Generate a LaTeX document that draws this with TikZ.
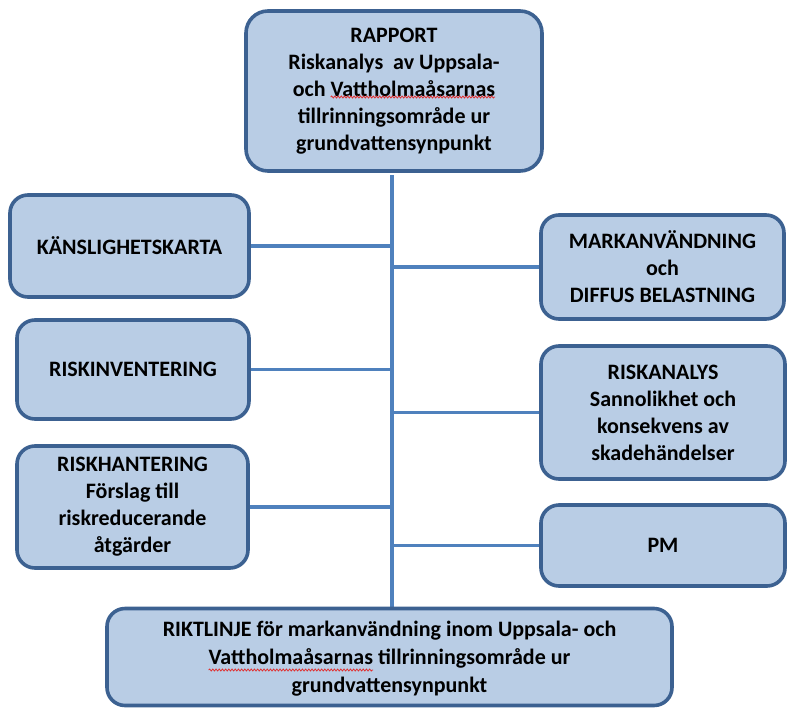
\documentclass[tikz,border=0pt]{standalone}
\usepackage{fontspec}
\setmainfont{Carlito}
\usetikzlibrary{decorations.pathmorphing}
\definecolor{boxfill}{HTML}{B9CDE5}
\definecolor{boxline}{HTML}{3C6191}
\definecolor{linkline}{HTML}{4F81BD}
\definecolor{spellred}{HTML}{E03030}
\newcommand\boxfont{\fontsize{22}{27}\selectfont\bfseries}
\newlength\lenlineA
\newlength\lenpreA
\newlength\lenwordA
\newlength\lenlineB
\newlength\lenwordB
\newsavebox\measurebox
\AtBeginDocument{%
  \sbox\measurebox{\boxfont och Vattholmaåsarnas}\setlength\lenlineA{\wd\measurebox}%
  \sbox\measurebox{\boxfont och\ }\setlength\lenpreA{\wd\measurebox}%
  \sbox\measurebox{\boxfont Vattholmaåsarnas}\setlength\lenwordA{\wd\measurebox}%
  \sbox\measurebox{\boxfont Vattholmaåsarnas tillrinningsområde ur}\setlength\lenlineB{\wd\measurebox}%
  \setlength\lenwordB{\lenwordA}%
}
\tikzset{
  box/.style={draw=boxline, fill=boxfill, line width=3.6pt, rounded corners=18pt,
    align=center, inner sep=2pt, font=\boxfont},
  link/.style={draw=linkline, line width=3.4pt},
  spell/.style={draw=spellred, line width=0.8pt, decorate, decoration={snake, amplitude=1pt, segment length=3.2pt}}
}
\begin{document}
\begin{tikzpicture}[x=1pt,y=-1pt]
\useasboundingbox (0,0) rectangle (787,707);
\pgfmathsetmacro\xAa{394-0.5*\lenlineA+\lenpreA}
\pgfmathsetmacro\xAb{\xAa+\lenwordA}
\pgfmathsetmacro\xBa{389.5-0.5*\lenlineB}
\pgfmathsetmacro\xBb{\xBa+\lenwordB}
\draw[link] (392,175) coordinate (ttop) -- (392,607) coordinate (tbot);
\node[box, minimum width=296pt, minimum height=160pt, rounded corners=22pt] (rap) at (394,91)
  {RAPPORT\\Riskanalys\ \ av Uppsala-\\och Vattholmaåsarnas\\tillrinningsområde ur\\grundvattensynpunkt};
\node[box, minimum width=239pt, minimum height=102pt] (kans) at (129.5,246) {KÄNSLIGHETSKARTA};
\node[box, minimum width=243pt, minimum height=104pt] (mark) at (662.5,267) {MARKANVÄNDNING\\och\\DIFFUS BELASTNING};
\node[box, minimum width=232pt, minimum height=99pt] (rinv) at (133,369.5) {RISKINVENTERING};
\node[box, minimum width=244pt, minimum height=133pt] (ranal) at (663,412.5) {RISKANALYS\\Sannolikhet och\\konsekvens av\\skadehändelser};
\node[box, minimum width=231pt, minimum height=122pt] (rhant) at (132.5,507) {RISKHANTERING\\Förslag till\\riskreducerande\\åtgärder};
\node[box, minimum width=244pt, minimum height=81pt] (pm) at (663,545.5) {PM};
\node[box, minimum width=565pt, minimum height=97pt] (rikt) at (389.5,657) {};
\node[font=\fontsize{22}{28}\selectfont\bfseries, align=center, inner sep=0pt] (rikttext) at (389.5,659)
  {RIKTLINJE för markanvändning inom Uppsala- och\\Vattholmaåsarnas tillrinningsområde ur\\grundvattensynpunkt};
\coordinate (w1a) at (\xAa,97);
\coordinate (w1b) at (\xAb,97);
\coordinate (w2a) at (\xBa,670);
\coordinate (w2b) at (\xBb,670);
\draw[spell] (w1a) -- (w1b);
\draw[spell] (w2a) -- (w2b);
\draw[link] (kans.east) -- (kans.east -| ttop);
\draw[link] (rinv.east) -- (rinv.east -| ttop);
\draw[link] (rhant.east) -- (rhant.east -| ttop);
\draw[link] (mark.west) -- (mark.west -| ttop);
\draw[link] (ranal.west) -- (ranal.west -| ttop);
\draw[link] (pm.west) -- (pm.west -| ttop);
\end{tikzpicture}
\end{document}
